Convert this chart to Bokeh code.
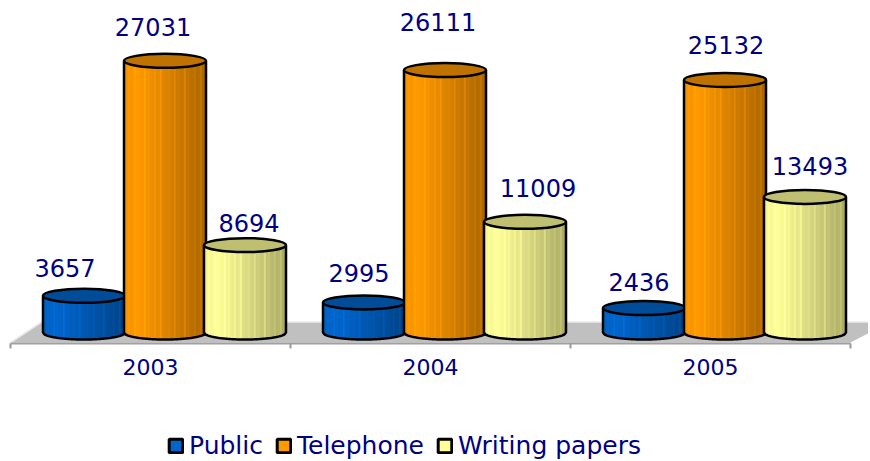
from bokeh.plotting import figure
from bokeh.models import FixedTicker, Legend, LegendItem, Range1d, ColumnDataSource
from bokeh.core.properties import value
from bokeh.embed import file_html
from bokeh.resources import INLINE
import numpy as np

years = ["2003", "2004", "2005"]
series_names = ["Public", "Telephone", "Writing papers"]
public = [3657, 2995, 2436]
telephone = [27031, 26111, 25132]
writing = [8694, 11009, 13493]

base_colors = [(0, 102, 204), (255, 153, 0), (255, 255, 153)]
TEXT = "#000080"
FONT = "DejaVu Sans"

PX_X = 280.0
PX_Y = 0.01005
HALF_W = 41 / PX_X
HALF_H = 7 / PX_Y
OFFS = [-81 / PX_X, 0.0, 80 / PX_X]
CENTER = 0.5 + 14.5 / PX_X
LEFT = 1
TOP = 1
H = 460

p = figure(width=868, height=H,
           output_backend="svg", toolbar_location=None,
           x_range=Range1d((LEFT - 11) / PX_X, (LEFT + 868 - 11) / PX_X),
           y_range=Range1d((333 - TOP - H) / PX_Y, (333 - TOP) / PX_Y),
           min_border=0, outline_line_color=None,
           background_fill_color="white", border_fill_color="white")
p.grid.visible = False
p.yaxis.visible = False

ax = p.xaxis[0]
ax.fixed_location = -11 / PX_Y
ax.bounds = (0, 3)
ax.ticker = FixedTicker(ticks=[0.5, 1.5, 2.5], minor_ticks=[0, 1, 2, 3])
ax.major_label_overrides = {0.5: years[0], 1.5: years[1], 2.5: years[2]}
ax.major_tick_line_color = None
ax.major_tick_out = 0
ax.major_tick_in = 0
ax.minor_tick_out = 5
ax.minor_tick_in = 0
ax.minor_tick_line_color = "#999999"
ax.minor_tick_line_width = 2
ax.axis_line_color = "#a0a0a0"
ax.axis_line_width = 2
ax.major_label_text_font = FONT
ax.major_label_text_font_size = "22px"
ax.major_label_text_color = TEXT
ax.major_label_standoff = 10


def hexc(rgb, f):
    return "#%02x%02x%02x" % tuple(int(max(0, min(255, c * f))) for c in rgb)


p.patch([0, 31 / PX_X, 3 + 40 / PX_X, 3],
        [-10 / PX_Y, 10.5 / PX_Y, 10.5 / PX_Y, -10 / PX_Y],
        fill_color="#c0c0c0", line_color=None)
p.line([0, 31 / PX_X, 3 + 40 / PX_X], [-10 / PX_Y, 10.5 / PX_Y, 10.5 / PX_Y],
       line_color="#ececec", line_width=1.5)

stripe_pattern = [0, 0, .03, 0, 0, .06, 0, .02, 0, 0, .1, 0, .03, 0, 0, .05, 0, .02, .08, 0]
N = 41
all_series = [public, telephone, writing]
label_dx = [[-19, -12, 4], [-5, -7, 13], [-5, 1, 5]]
label_dy = [[-28, -34, -22], [-29, -48, -34], [-26, -35, -31]]

lab_x, lab_y, lab_t, lab_dx, lab_dy = [], [], [], [], []
for g in range(3):
    for s in range(3):
        v = all_series[s][g]
        cx = g + CENTER + OFFS[s]
        edges = np.linspace(-1, 1, N + 1)
        xs, ys, cols = [], [], []
        for i in range(N):
            l, r = edges[i], edges[i + 1]
            t = (i + 0.5) / N
            f = np.interp(t, [0, .15, .3, 1], [.95, 1.0, .95, .66]) + stripe_pattern[i % len(stripe_pattern)]
            bl = -HALF_H * np.sqrt(max(0, 1 - l * l))
            br = -HALF_H * np.sqrt(max(0, 1 - r * r))
            xs.append([cx + l * HALF_W, cx + r * HALF_W, cx + r * HALF_W, cx + l * HALF_W])
            ys.append([bl, br, v, v])
            cols.append(hexc(base_colors[s], f))
        p.patches(xs, ys, fill_color=cols, line_color=cols, line_width=0.4)
        arc = np.linspace(-1, 1, 60)
        ox = list(cx + arc * HALF_W)
        oy = list(-HALF_H * np.sqrt(1 - arc * arc))
        p.line([cx - HALF_W] + ox + [cx + HALF_W], [v] + oy + [v],
               line_color="black", line_width=2.5)
        p.ellipse([cx], [v], width=2 * HALF_W, height=2 * HALF_H,
                  fill_color=hexc(base_colors[s], .75), line_color="black", line_width=2.5)
        lab_x.append(cx)
        lab_y.append(v)
        lab_t.append(str(v))
        lab_dx.append(label_dx[g][s])
        lab_dy.append(label_dy[g][s])

src = ColumnDataSource(dict(x=lab_x, y=lab_y, t=lab_t, dx=lab_dx, dy=lab_dy))
p.text(x="x", y="y", text="t", source=src, x_offset="dx", y_offset="dy",
       text_align="center", text_baseline="middle", text_font=value(FONT),
       text_font_size="24px", text_color=TEXT)

items = []
for s, name in enumerate(series_names):
    r = p.quad(left=[-6], right=[-5], top=[1], bottom=[0], fill_color=hexc(base_colors[s], 1),
               line_color="black", line_width=3)
    items.append(LegendItem(label=name, renderers=[r]))

leg = Legend(items=items, orientation="horizontal", location=(167, 0),
             label_text_font=FONT, label_text_font_size="25px", label_text_color=TEXT,
             glyph_width=17, glyph_height=17, label_standoff=5, spacing=12,
             border_line_color=None, background_fill_alpha=0,
             padding=0, margin=0)
p.add_layout(leg, "center")

open("out.html", "w").write(file_html(p, INLINE))
